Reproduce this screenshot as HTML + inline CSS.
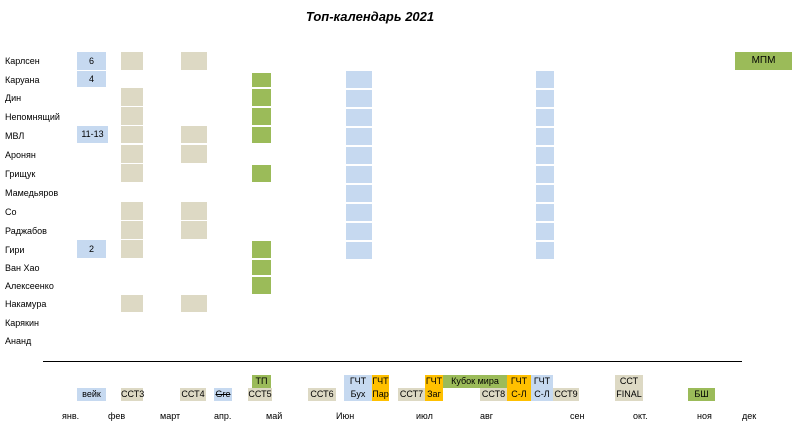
<!DOCTYPE html>
<html><head><meta charset="utf-8"><style>
body{margin:0;width:794px;height:427px;background:#fff;position:relative;overflow:hidden;font-family:"Liberation Sans","DejaVu Sans",sans-serif;font-size:9px;color:#000}
div{position:absolute;box-sizing:border-box}
.b{background:#c6d9f0}.g{background:#9bbb59}.t{background:#ddd9c4}.o{background:#ffc000}
.c{text-align:center}
.n{left:5px;height:18px;line-height:18px}
.m{top:411px}
</style></head><body>
<div style="left:300px;top:9px;width:140px;text-align:center;font-weight:bold;font-style:italic;font-size:13px">Топ-календарь 2021</div>

<div class="n" style="top:52px">Карлсен</div>
<div class="n" style="top:71px">Каруана</div>
<div class="n" style="top:89px">Дин</div>
<div class="n" style="top:108px">Непомнящий</div>
<div class="n" style="top:127px">МВЛ</div>
<div class="n" style="top:146px">Аронян</div>
<div class="n" style="top:165px">Грищук</div>
<div class="n" style="top:184px">Мамедьяров</div>
<div class="n" style="top:203px">Со</div>
<div class="n" style="top:222px">Раджабов</div>
<div class="n" style="top:241px">Гири</div>
<div class="n" style="top:259px">Ван Хао</div>
<div class="n" style="top:277px">Алексеенко</div>
<div class="n" style="top:295px">Накамура</div>
<div class="n" style="top:314px">Карякин</div>
<div class="n" style="top:332px">Ананд</div>

<div class="b c" style="left:77px;top:52px;width:29px;height:18px;line-height:18px">6</div>
<div class="b c" style="left:77px;top:71px;width:29px;height:16px;line-height:16px">4</div>
<div class="b c" style="left:77px;top:126px;width:31px;height:17px;line-height:17px">11-13</div>
<div class="b c" style="left:77px;top:240px;width:29px;height:18px;line-height:18px">2</div>

<!-- beige col1 -->
<div class="t" style="left:121px;top:52px;width:22px;height:18px"></div>
<div class="t" style="left:121px;top:88px;width:22px;height:18px"></div>
<div class="t" style="left:121px;top:107px;width:22px;height:18px"></div>
<div class="t" style="left:121px;top:126px;width:22px;height:17px"></div>
<div class="t" style="left:121px;top:145px;width:22px;height:18px"></div>
<div class="t" style="left:121px;top:164px;width:22px;height:18px"></div>
<div class="t" style="left:121px;top:202px;width:22px;height:18px"></div>
<div class="t" style="left:121px;top:221px;width:22px;height:18px"></div>
<div class="t" style="left:121px;top:240px;width:22px;height:18px"></div>
<div class="t" style="left:121px;top:295px;width:22px;height:17px"></div>
<!-- beige col2 -->
<div class="t" style="left:181px;top:52px;width:26px;height:18px"></div>
<div class="t" style="left:181px;top:126px;width:26px;height:17px"></div>
<div class="t" style="left:181px;top:145px;width:26px;height:18px"></div>
<div class="t" style="left:181px;top:202px;width:26px;height:18px"></div>
<div class="t" style="left:181px;top:221px;width:26px;height:18px"></div>
<div class="t" style="left:181px;top:295px;width:26px;height:17px"></div>
<!-- green -->
<div class="g" style="left:252px;top:73px;width:19px;height:14px"></div>
<div class="g" style="left:252px;top:89px;width:19px;height:17px"></div>
<div class="g" style="left:252px;top:108px;width:19px;height:17px"></div>
<div class="g" style="left:252px;top:127px;width:19px;height:16px"></div>
<div class="g" style="left:252px;top:165px;width:19px;height:17px"></div>
<div class="g" style="left:252px;top:241px;width:19px;height:17px"></div>
<div class="g" style="left:252px;top:260px;width:19px;height:15px"></div>
<div class="g" style="left:252px;top:277px;width:19px;height:17px"></div>
<!-- blue cols -->
<div style="left:346px;top:71px;width:26px;height:188px;background:repeating-linear-gradient(#c6d9f0 0 17px,#fff 17px 19px)"></div>
<div style="left:536px;top:71px;width:18px;height:188px;background:repeating-linear-gradient(#c6d9f0 0 17px,#fff 17px 19px)"></div>
<div class="g c" style="left:735px;top:52px;width:57px;height:18px;line-height:18px;font-size:10px">МПМ</div>

<div style="left:43px;top:361px;width:699px;height:1px;background:#000"></div>

<!-- legend -->
<div class="b c" style="left:77px;top:388px;width:29px;height:13px;line-height:13px">вейк</div>
<div class="t c" style="left:121px;top:388px;width:22px;height:13px;line-height:13px">ССТ3</div>
<div class="t c" style="left:180px;top:388px;width:26px;height:13px;line-height:13px">ССТ4</div>
<div class="b c" style="left:214px;top:388px;width:18px;height:13px;line-height:13px;text-decoration:line-through">Gre</div>
<div class="g c" style="left:252px;top:375px;width:19px;height:13px;line-height:13px">ТП</div>
<div class="t c" style="left:248px;top:388px;width:24px;height:13px;line-height:13px">ССТ5</div>
<div class="t c" style="left:308px;top:388px;width:28px;height:13px;line-height:13px">ССТ6</div>
<div class="b c" style="left:344px;top:375px;width:28px;height:26px;line-height:13px">ГЧТ<br>Бух</div>
<div class="o c" style="left:372px;top:375px;width:17px;height:26px;line-height:13px">ГЧТ<br>Пар</div>
<div class="t c" style="left:398px;top:388px;width:27px;height:13px;line-height:13px">ССТ7</div>
<div class="o c" style="left:425px;top:375px;width:18px;height:26px;line-height:13px">ГЧТ<br>Заг</div>
<div class="g c" style="left:443px;top:375px;width:64px;height:13px;line-height:13px">Кубок мира</div>
<div class="t c" style="left:480px;top:388px;width:27px;height:13px;line-height:13px">ССТ8</div>
<div class="o c" style="left:507px;top:375px;width:24px;height:26px;line-height:13px">ГЧТ<br>С-Л</div>
<div class="b c" style="left:531px;top:375px;width:22px;height:26px;line-height:13px">ГЧТ<br>С-Л</div>
<div class="t c" style="left:553px;top:388px;width:26px;height:13px;line-height:13px">ССТ9</div>
<div class="t c" style="left:615px;top:375px;width:28px;height:26px;line-height:13px">ССТ<br>FINAL</div>
<div class="g c" style="left:688px;top:388px;width:27px;height:13px;line-height:13px">БШ</div>

<div class="m" style="left:62px">янв.</div>
<div class="m" style="left:108px">фев</div>
<div class="m" style="left:160px">март</div>
<div class="m" style="left:214px">апр.</div>
<div class="m" style="left:266px">май</div>
<div class="m" style="left:336px">Июн</div>
<div class="m" style="left:416px">июл</div>
<div class="m" style="left:480px">авг</div>
<div class="m" style="left:570px">сен</div>
<div class="m" style="left:633px">окт.</div>
<div class="m" style="left:697px">ноя</div>
<div class="m" style="left:742px">дек</div>
</body></html>
